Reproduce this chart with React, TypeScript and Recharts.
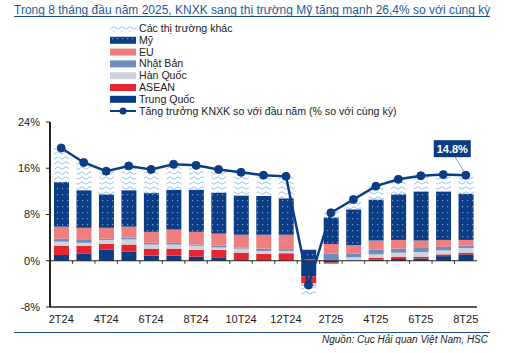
import { ComposedChart, Bar, Line, XAxis, YAxis, ReferenceLine, LabelList } from 'recharts';

const months = ['2T24', '3T24', '4T24', '5T24', '6T24', '7T24', '8T24', '9T24', '10T24', '11T24', '12T24', '1T25', '2T25', '3T25', '4T25', '5T25', '6T25', '7T25', '8T25'];

// đóng góp vào tăng trưởng (điểm %)
const trungQuoc = [1.0, 1.2, 1.9, 1.6, 0.9, 0.9, 0.7, 0.6, 0.05, 0, 0, -2.7, -0.3, 0, 0.2, 0.3, 0.4, 0.8, 1.1];
const asean = [1.6, 1.4, 1.0, 1.2, 1.2, 1.2, 1.2, 1.3, 1.35, 1.2, 1.3, -1.2, -0.2, 0, 0.3, 0.4, 0.3, 0.3, 0.3];
const hanQuoc = [0.7, 0.5, 0.7, 0.9, 0.7, 0.7, 0.7, 0.4, 0.7, 0.5, 0.4, -0.4, 0.1, 0.6, 0.6, 0.7, 0.8, 0.7, 0.8];
const nhatBan = [0.5, 0.5, 0.2, 0.3, 0.3, 0.3, 0.2, 0.3, 0.2, 0.4, 0.3, -0.1, 1.1, 0.6, 0.8, 0.7, 0.7, 0.6, 0.4];
const eu = [2.1, 2.1, 1.9, 1.9, 1.9, 2.3, 2.2, 2.1, 2.2, 2.4, 2.5, 0.2, 1.7, 1.5, 1.6, 1.5, 1.3, 1.2, 1.0];
const my = [7.7, 6.5, 5.8, 6.3, 6.7, 6.9, 7.3, 7.1, 6.8, 6.7, 6.3, 1.7, 4.6, 6.2, 7.1, 7.9, 8.5, 8.4, 8.0];
const khac = [5.9, 4.8, 4.0, 4.2, 4.1, 4.4, 4.2, 4.0, 4.0, 3.6, 3.8, -1.4, 1.3, 1.7, 2.3, 2.6, 2.7, 2.9, 3.2];
const tangTruong = [19.5, 17.0, 15.5, 16.4, 15.8, 16.7, 16.5, 15.8, 15.3, 14.8, 14.6, -4.2, 8.3, 10.6, 12.9, 14.1, 14.7, 14.9, 14.8];

const yTicks = [-8, 0, 8, 16, 24];

const data = months.map((m, i) => ({
  m,
  tq: trungQuoc[i],
  asean: asean[i],
  hq: hanQuoc[i],
  nb: nhatBan[i],
  eu: eu[i],
  my: my[i],
  khac: khac[i],
  growth: tangTruong[i],
}));

const NAVY = '#0B3D86';
const FONT = '"Liberation Sans", Arial, sans-serif';

const legendItems = [
  { name: 'Các thị trường khác', fill: 'url(#lgWave)' },
  { name: 'Mỹ', fill: 'url(#lgDots)' },
  { name: 'EU', fill: '#EF7F7F' },
  { name: 'Nhật Bản', fill: '#6B8EBE' },
  { name: 'Hàn Quốc', fill: '#CFD3DB' },
  { name: 'ASEAN', fill: '#E3262F' },
  { name: 'Trung Quốc', fill: NAVY },
];

const Patterns = ({ wave, dots }: { wave: string; dots: string }) => (
  <defs>
    <pattern id={wave} width="8" height="5" patternUnits="userSpaceOnUse">
      <rect width="8" height="5" fill="#fff" />
      <path d="M0 3 Q2 0.5 4 3 T8 3" stroke="#93C3F0" strokeWidth="1" fill="none" />
    </pattern>
    <pattern id={dots} width="5" height="6" patternUnits="userSpaceOnUse">
      <rect width="5" height="6" fill={NAVY} />
      <rect x="2" y="2" width="1.2" height="1.2" fill="#7E9CCB" />
    </pattern>
  </defs>
);

const ZeroTicks = (props: any) => {
  const vb = props.viewBox;
  if (!vb) return null;
  const n = months.length;
  const ticks = [];
  for (let k = 1; k < n; k++) {
    const x = vb.x + (vb.width * k) / n;
    ticks.push(<line key={k} x1={x} x2={x} y1={vb.y} y2={vb.y + 3} stroke="#333" strokeWidth={1} />);
  }
  return <g>{ticks}</g>;
};

const LastLabel = (props: any) => {
  const { x, y, index, value } = props;
  if (index !== months.length - 1) return null;
  return (
    <g>
      <line x1={x - 11} y1={y - 19} x2={x - 2} y2={y - 4} stroke="#9A9A9A" strokeWidth={1} />
      <rect x={x - 32} y={y - 35} width={37} height={17} fill={NAVY} />
      <text x={x - 13.5} y={y - 22.5} textAnchor="middle" fill="#fff" fontSize={11} fontWeight="bold" fontFamily={FONT}>
        {value.toFixed(1)}%
      </text>
    </g>
  );
};

export default function App() {
  return (
    <div style={{ position: 'absolute', left: 0, top: 0, width: 512, height: 353, background: '#fff', fontFamily: FONT, color: '#222' }}>
      <div style={{ position: 'absolute', left: 14, top: 3, width: 476, fontSize: 12, color: '#1F5A9A', whiteSpace: 'nowrap' }}>
        Trong 8 tháng đầu năm 2025, KNXK sang thị trường Mỹ tăng mạnh 26,4% so với cùng kỳ
      </div>
      <div style={{ position: 'absolute', left: 14, top: 16, width: 476, height: 1, background: '#1F4E8C' }} />

      <svg style={{ position: 'absolute', left: 0, top: 0 }} width={512} height={120}>
        <Patterns wave="lgWave" dots="lgDots" />
        {legendItems.map((it, i) => (
          <g key={it.name}>
            <rect x={110} y={25 + i * 11.8} width={26} height={7} fill={it.fill} />
            <text x={139} y={32 + i * 11.8} fontSize={10.6} fontFamily={FONT} fill="#222">{it.name}</text>
          </g>
        ))}
        <line x1={110} x2={136} y1={111} y2={111} stroke={NAVY} strokeWidth={2} />
        <circle cx={123} cy={111} r={3.5} fill={NAVY} />
        <text x={139} y={115} fontSize={10.6} fontFamily={FONT} fill="#222">Tăng trưởng KNXK so với đầu năm (% so với cùng kỳ)</text>
      </svg>

      <div style={{ position: 'absolute', left: 0, top: 0 }}>
        <ComposedChart width={512} height={353} data={data} stackOffset="sign" margin={{ top: 122, right: 35, bottom: 16, left: 0 }}>
          <Patterns wave="wave" dots="dots" />
          <XAxis
            dataKey="m"
            interval={1}
            height={30}
            tickLine={false}
            axisLine={{ stroke: '#222', strokeWidth: 1.5 }}
            tick={{ fill: '#222', fontSize: 11, fontFamily: FONT }}
          />
          <XAxis xAxisId="top" orientation="top" dataKey="m" height={0} tick={false} tickLine={false} axisLine={{ stroke: '#222', strokeWidth: 1 }} />
          <YAxis
            width={50}
            domain={[-8, 24]}
            ticks={yTicks}
            tickFormatter={(v: number) => `${v}%`}
            tickSize={4}
            tickMargin={6}
            axisLine={{ stroke: '#222', strokeWidth: 2 }}
            tickLine={{ stroke: '#222' }}
            tick={{ fill: '#222', fontSize: 11, fontFamily: FONT }}
          />
          <YAxis yAxisId="r" orientation="right" width={0} domain={[0, 1]} tick={false} tickLine={false} axisLine={{ stroke: '#222', strokeWidth: 1.5 }} />
          <Bar dataKey="tq" stackId="a" fill={NAVY} barSize={15} isAnimationActive={false} />
          <Bar dataKey="asean" stackId="a" fill="#E3262F" barSize={15} isAnimationActive={false} />
          <Bar dataKey="hq" stackId="a" fill="#CFD3DB" barSize={15} isAnimationActive={false} />
          <Bar dataKey="nb" stackId="a" fill="#6B8EBE" barSize={15} isAnimationActive={false} />
          <Bar dataKey="eu" stackId="a" fill="#EF7F7F" barSize={15} isAnimationActive={false} />
          <Bar dataKey="my" stackId="a" fill="url(#dots)" barSize={15} isAnimationActive={false} />
          <Bar dataKey="khac" stackId="a" fill="url(#wave)" barSize={15} isAnimationActive={false} />
          <ReferenceLine y={0} stroke="#222" strokeWidth={1.2} label={<ZeroTicks />} />
          <Line
            dataKey="growth"
            type="linear"
            stroke={NAVY}
            strokeWidth={2.5}
            dot={{ r: 4, fill: NAVY, stroke: NAVY, strokeWidth: 1 }}
            activeDot={false}
            isAnimationActive={false}
          >
            <LabelList dataKey="growth" content={<LastLabel />} />
          </Line>
        </ComposedChart>
      </div>

      <div style={{ position: 'absolute', left: 14, top: 332, width: 476, height: 1, background: '#1F4E8C' }} />
      <div style={{ position: 'absolute', right: 24, top: 334, fontSize: 10, fontStyle: 'italic', color: '#222' }}>
        Nguồn: Cục Hải quan Việt Nam, HSC
      </div>
    </div>
  );
}
